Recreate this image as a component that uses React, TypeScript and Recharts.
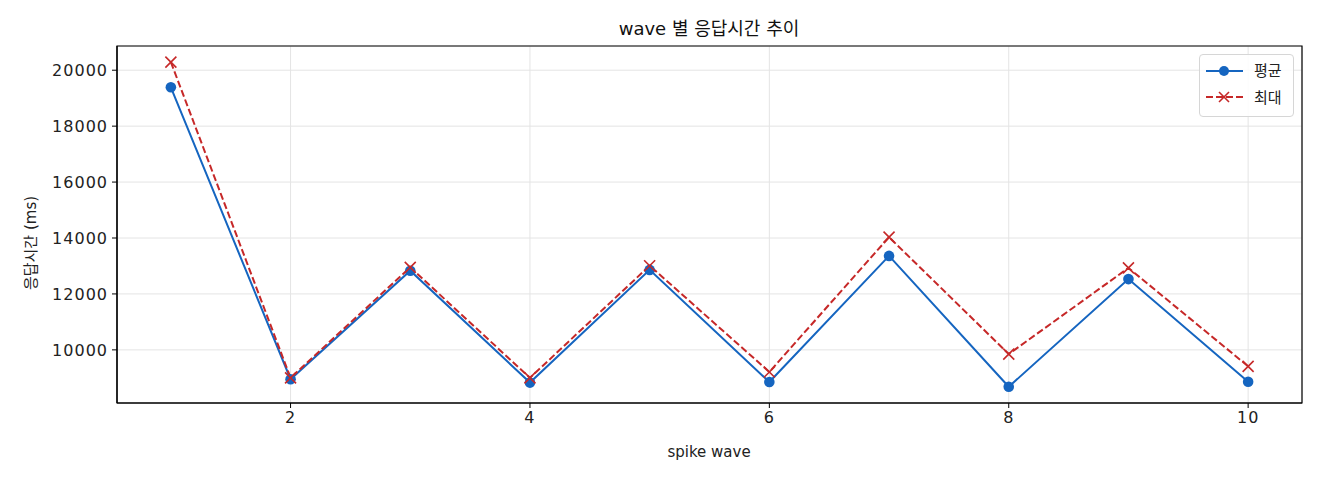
import React from 'react';
import {
    LineChart, Line, XAxis, YAxis, CartesianGrid, ReferenceArea
} from 'recharts';

// wave index and response times (ms)
const waves = [1, 2, 3, 4, 5, 6, 7, 8, 9, 10];
const avgMs = [19390, 8950, 12830, 8830, 12860, 8850, 13360, 8680, 12530, 8860];
const maxMs = [20290, 9000, 12950, 9000, 13010, 9210, 14030, 9850, 12930, 9410];
const xTicks = [2, 4, 6, 8, 10];
const yTicks = [10000, 12000, 14000, 16000, 18000, 20000];
const seriesNames = ['평균', '최대'];

const BLUE = '#1565C0';
const RED = '#C62828';
const FONT = '"DejaVu Sans", "Noto Sans CJK KR", sans-serif';

const data = waves.map((w, i) => ({ wave: w, avg: avgMs[i], max: maxMs[i] }));

const XDOM: [number, number] = [0.55, 10.45];
const YDOM: [number, number] = [8100, 20866];

const CrossDot = (props: any) => {
    const { cx, cy, index } = props;
    const s = 5.5;
    return (
        <g key={`x-${index}`}>
            <line x1={cx - s} y1={cy - s} x2={cx + s} y2={cy + s} stroke={RED} strokeWidth={1.6} />
            <line x1={cx - s} y1={cy + s} x2={cx + s} y2={cy - s} stroke={RED} strokeWidth={1.6} />
        </g>
    );
};

// legend drawn as an overlay so it does not take room from the plot
const LegendBox = () => (
    <div style={{
        position: 'absolute', left: 1199, top: 54,
        width: 95, height: 63, boxSizing: 'border-box', border: '1px solid #d6d6d6',
        borderRadius: 4, background: 'rgba(255,255,255,0.85)'
    }}>
        <svg width={93} height={61} style={{ display: 'block' }}>
            <line x1={6} y1={16} x2={43} y2={16} stroke={BLUE} strokeWidth={2} />
            <circle cx={24} cy={16} r={5} fill={BLUE} />
            <text x={54} y={21} fontSize={15} fontFamily={FONT} fill="#222">{seriesNames[0]}</text>
            <line x1={6} y1={42} x2={43} y2={42} stroke={RED} strokeWidth={2} strokeDasharray="7 3" />
            <line x1={19} y1={37} x2={29} y2={47} stroke={RED} strokeWidth={1.6} />
            <line x1={19} y1={47} x2={29} y2={37} stroke={RED} strokeWidth={1.6} />
            <text x={54} y={48} fontSize={15} fontFamily={FONT} fill="#222">{seriesNames[1]}</text>
        </svg>
    </div>
);

const tickStyle = { fontSize: 16, fill: '#222', fontFamily: FONT, letterSpacing: 1 };

export default function App() {
    return (
        <div style={{ position: 'absolute', left: 0, top: 0, width: 1320, height: 480, background: '#fff' }}>
            <LineChart
                width={1320}
                height={480}
                data={data}
                margin={{ top: 46, right: 18, bottom: 17, left: 0 }}
            >
                <CartesianGrid stroke="#e4e4e4" strokeWidth={1} />
                <XAxis
                    dataKey="wave"
                    type="number"
                    domain={XDOM}
                    ticks={xTicks}
                    allowDataOverflow
                    height={60}
                    tickSize={5}
                    tickMargin={4}
                    axisLine={{ stroke: '#000', strokeWidth: 1.2 }}
                    tickLine={{ stroke: '#000' }}
                    tick={tickStyle}
                />
                <YAxis
                    type="number"
                    domain={YDOM}
                    ticks={yTicks}
                    allowDataOverflow
                    width={117}
                    tickSize={5}
                    tickMargin={4}
                    axisLine={{ stroke: '#000', strokeWidth: 1.2 }}
                    tickLine={{ stroke: '#000' }}
                    tick={tickStyle}
                />
                <ReferenceArea x1={XDOM[0]} x2={XDOM[1]} y1={YDOM[0]} y2={YDOM[1]}
                    fill="none" stroke="#000" strokeWidth={1.2} ifOverflow="visible" />
                <Line
                    dataKey="avg"
                    name={seriesNames[0]}
                    stroke={BLUE}
                    strokeWidth={2}
                    dot={{ r: 5.3, fill: BLUE, stroke: BLUE, strokeWidth: 0 }}
                    activeDot={false}
                    isAnimationActive={false}
                />
                <Line
                    dataKey="max"
                    name={seriesNames[1]}
                    stroke={RED}
                    strokeWidth={2}
                    strokeDasharray="7 3"
                    dot={CrossDot}
                    activeDot={false}
                    isAnimationActive={false}
                />
            </LineChart>
            <LegendBox />
            <svg width={1320} height={480} style={{ position: 'absolute', left: 0, top: 0, pointerEvents: 'none' }}>
                <text x={709} y={35} textAnchor="middle" fontSize={18} fontFamily={FONT} fill="#111">
                    wave 별 응답시간 추이
                </text>
                <text x={709} y={457} textAnchor="middle" fontSize={15} fontFamily={FONT} fill="#222">
                    spike wave
                </text>
                <text x={36} y={243} textAnchor="middle" fontSize={15} fontFamily={FONT} fill="#222"
                    transform="rotate(-90 36 243)">
                    응답시간 (ms)
                </text>
            </svg>
        </div>
    );
}
